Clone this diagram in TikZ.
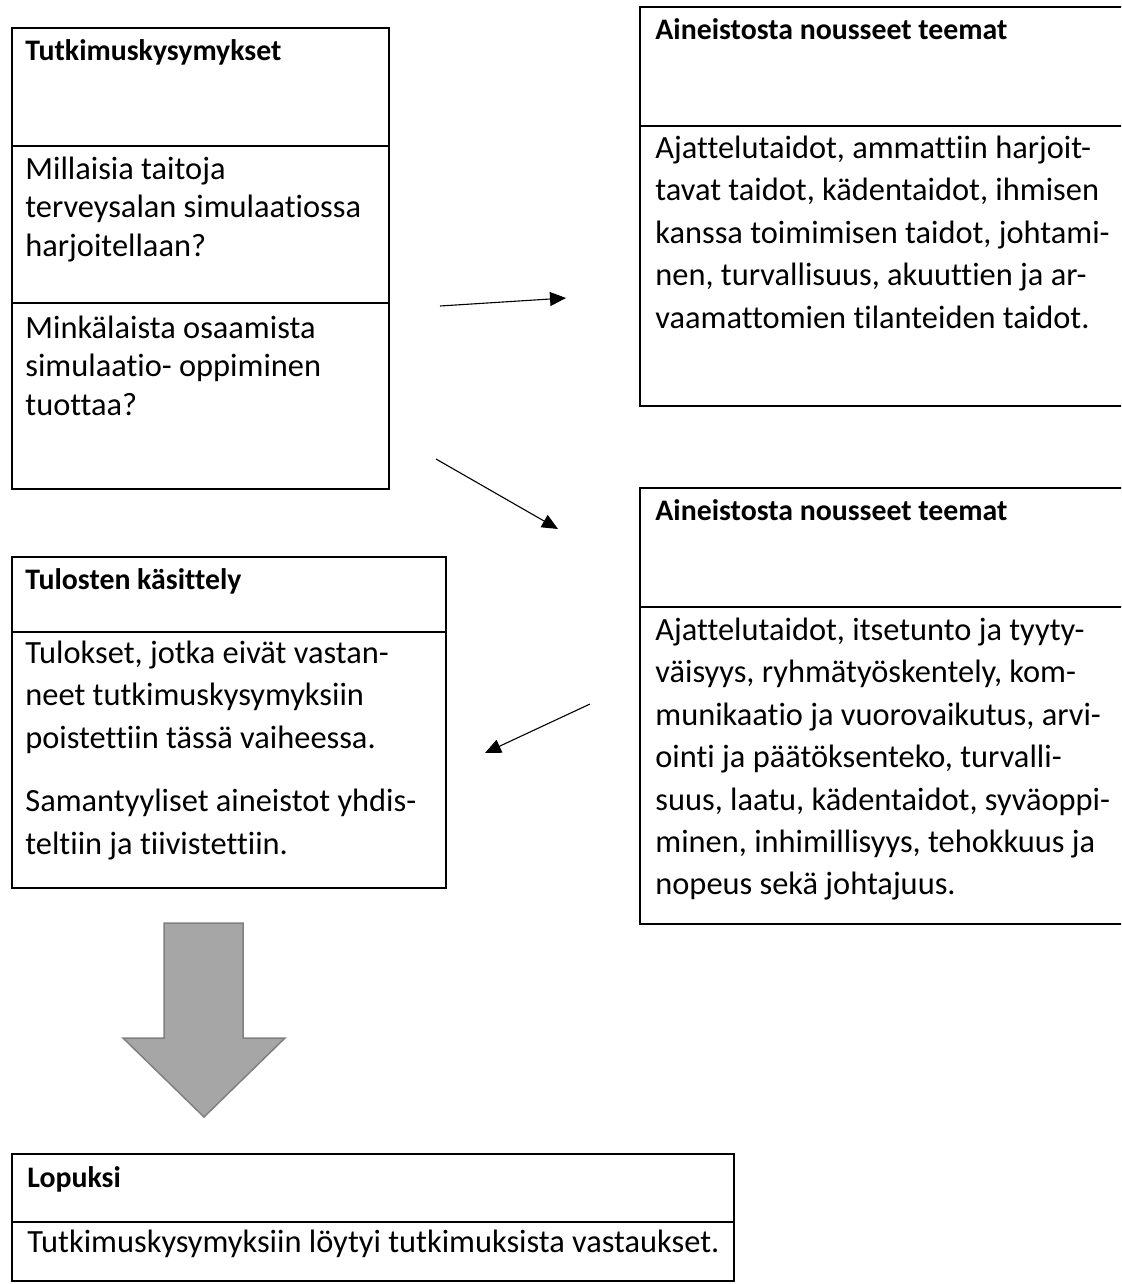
\documentclass[tikz,border=0pt]{standalone}
\usepackage{fontspec}
\setmainfont{Carlito}[Ligatures=NoCommon]
\usetikzlibrary{arrows.meta}
\newcommand\lineup{\rule{0pt}{14pt}}

\begin{document}
\begin{tikzpicture}[x=0.5pt,y=-0.5pt,>={Triangle[length=8pt,width=7pt]},
  box/.style={draw, line width=0.75pt},
  txt/.style={anchor=north west, inner sep=0pt, align=left, font=\fontsize{16.2}{21.2}\selectfont},
  ttl/.style={txt, font=\fontsize{14.9}{21.2}\selectfont\bfseries},
  tight/.style={font=\fontsize{16.2}{19.2}\selectfont},
  conn/.style={->, line width=0.55pt},
  bigarrow/.style={fill=gray!70, draw=gray, line width=0.75pt}]
  \useasboundingbox (0,0) rectangle (1121,1284);
  \clip (0,0) rectangle (1121,1284);

  \draw[box] (12,28) rectangle (389,489) (12,146) -- (389,146) (12,303) -- (389,303);
  \node[ttl] (kysT) at (25,32) {\lineup Tutkimuskysymykset};
  \node[txt,tight] (kys1) at (25,151) {\lineup Millaisia taitoja\\terveysalan simulaatiossa\\harjoitellaan?};
  \node[txt,tight] (kys2) at (25,310) {\lineup Minkälaista osaamista\\simulaatio- oppiminen\\tuottaa?};

  \draw[box] (640,7) rectangle (1130,406) (640,126) -- (1130,126);
  \node[ttl] (teema1T) at (655,11) {\lineup Aineistosta nousseet teemat};
  \node[txt] (teema1) at (655,130) {\lineup Ajattelutaidot, ammattiin harjoit-\\tavat taidot, kädentaidot, ihmisen\\kanssa toimimisen taidot, johtami-\\nen, turvallisuus, akuuttien ja ar-\\vaamattomien tilanteiden taidot.};

  \draw[box] (640,488) rectangle (1130,924) (640,607) -- (1130,607);
  \node[ttl] (teema2T) at (655,492) {\lineup Aineistosta nousseet teemat};
  \node[txt] (teema2) at (655,612) {\lineup Ajattelutaidot, itsetunto ja tyyty-\\väisyys, ryhmätyöskentely, kom-\\munikaatio ja vuorovaikutus, arvi-\\ointi ja päätöksenteko, turvalli-\\suus, laatu, kädentaidot, syväoppi-\\minen, inhimillisyys, tehokkuus ja\\nopeus sekä johtajuus.};

  \draw[box] (12,557) rectangle (446,888) (12,632) -- (446,632);
  \node[ttl] (kasT) at (25,561) {\lineup Tulosten käsittely};
  \node[txt] (kas) at (25,635) {\lineup Tulokset, jotka eivät vastan-\\neet tutkimuskysymyksiin\\poistettiin tässä vaiheessa.\\[10.5pt]Samantyyliset aineistot yhdis-\\teltiin ja tiivistettiin.};

  \draw[bigarrow] (164,923) -- (243,923) -- (243,1038) -- (285,1038) -- (204,1117) -- (123,1038) -- (164,1038) -- cycle;

  \draw[box] (12,1154) rectangle (734,1281) (12,1222) -- (734,1222);
  \node[ttl] (lopT) at (27,1159) {\lineup Lopuksi};
  \node[txt] (lop) at (27,1224) {\lineup Tutkimuskysymyksiin löytyi tutkimuksista vastaukset.};

  \coordinate (a1) at (440,306);
  \coordinate (b1) at (566,298);
  \coordinate (a2) at (436,459);
  \coordinate (b2) at (558,529);
  \coordinate (a3) at (590,704);
  \coordinate (b3) at (485,753);
  \draw[conn] (a1) -- (b1);
  \draw[conn] (a2) -- (b2);
  \draw[conn] (a3) -- (b3);
\end{tikzpicture}
\end{document}
